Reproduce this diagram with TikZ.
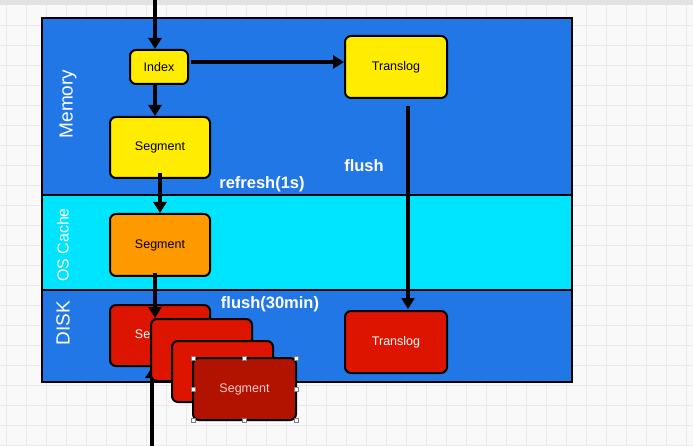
\documentclass[tikz,border=0pt]{standalone}
\usepackage{fontspec}
\setmainfont{Liberation Sans}
\usetikzlibrary{arrows.meta}
\definecolor{memblue}{RGB}{34,119,230}
\definecolor{oscyan}{RGB}{0,229,255}
\definecolor{yel}{RGB}{255,236,0}
\definecolor{org}{RGB}{255,153,0}
\definecolor{redA}{RGB}{221,20,0}
\definecolor{redB}{RGB}{178,18,0}
\definecolor{pinktxt}{RGB}{245,205,200}
\definecolor{gridc}{RGB}{234,234,234}
\definecolor{bgc}{RGB}{249,249,249}
\definecolor{barc}{RGB}{226,226,226}
\begin{document}
\begin{tikzpicture}[x=1pt,y=-1pt,
  box/.style={draw=black,line width=2pt,rounded corners=6pt,inner sep=0pt,
    font=\fontsize{12.5}{14}\selectfont},
  layer/.style={draw=black,line width=2pt},
  arr/.style={line width=3.4pt,-{Triangle[length=11pt,width=13pt]}},
  lbl/.style={text=white,font=\bfseries\fontsize{16.5}{20}\selectfont},
  side/.style={text=white,rotate=90,font=\fontsize{19}{22}\selectfont},
  handle/.style={draw=gray,fill=white,line width=0.5pt,minimum size=4pt,inner sep=0pt}
]
\useasboundingbox (0,0) rectangle (693,446);
\fill[bgc] (0,0) rectangle (693,446);
\foreach \gx in {6.7,26.7,...,693} \draw[gridc,line width=0.8pt] (\gx,5) -- (\gx,446);
\foreach \gy in {25,45,...,446} \draw[gridc,line width=0.8pt] (0,\gy) -- (693,\gy);
\fill[barc] (0,0) rectangle (693,5);

% layers
\filldraw[layer,fill=memblue] (42,18) rectangle (572,195);
\filldraw[layer,fill=oscyan] (42,195) rectangle (572,290);
\filldraw[layer,fill=memblue] (42,290) rectangle (572,382);
\node[side] (lmem) at (68,104) {Memory};
\node[side,font=\fontsize{16}{19}\selectfont] (los) at (63,245) {OS Cache};
\node[side] (ldisk) at (63,323) {DISK};

% nodes
\node[box,fill=yel,minimum width=58pt,minimum height=34pt] (idx) at (159,67) {Index};
\node[box,fill=yel,minimum width=100pt,minimum height=61pt] (seg1) at (160,147.5) {Segment};
\node[box,fill=yel,minimum width=102pt,minimum height=62pt] (tl1) at (396,67) {Translog};
\node[box,fill=org,minimum width=100pt,minimum height=62pt] (seg2) at (160,245) {Segment};
\node[box,fill=redA,text=white,minimum width=102pt,minimum height=62pt] (tl2) at (396,342) {Translog};
\node[box,fill=redA,text=white,minimum width=100pt,minimum height=61pt] (d1) at (160,335.5) {Segment};

% labels
\node[lbl] (refresh) at (262,184) {refresh(1s)};
\node[lbl] (flush) at (364,166) {flush};
\node[lbl] (flush30) at (270,304) {flush(30min)};

% connectors
\coordinate (top) at (155,0);
\coordinate (a1) at (191,62);
\coordinate (s1b) at (160,173);
\coordinate (s2b) at (155,273);
\coordinate (t1b) at (408,106);
\coordinate (t2n) at (408,309);
\coordinate (bot) at (152,446);
\draw[arr] (top) -- (idx.north -| top);
\draw[arr] (idx.south -| top) -- (seg1.north -| top);
\draw[arr] (a1) -- (a1 -| tl1.west);
\draw[arr] (s1b) -- (seg2.north -| s1b);
\draw[arr] (t1b) -- (t2n);
\draw[arr] (bot) -- (d1.south -| bot);

% stacked disk segments
\node[box,fill=redA,text=white,minimum width=101pt,minimum height=62pt] (d2) at (201.5,350) {Segment};
\draw[arr] (s2b) -- (d2.north -| s2b);
\node[box,fill=redA,text=white,minimum width=101pt,minimum height=61pt] (d3) at (222.5,371.5) {Segment};
\node[box,fill=redB,text=pinktxt,minimum width=103pt,minimum height=62pt] (d4) at (244.5,389) {Segment};

% selection handles
\foreach \hx/\hy [count=\i] in {193/358,244.5/358,296/358,193/389,296/389,193/420,244.5/420,296/420}
  \node[handle] (h\i) at (\hx,\hy) {};
\end{tikzpicture}
\end{document}
